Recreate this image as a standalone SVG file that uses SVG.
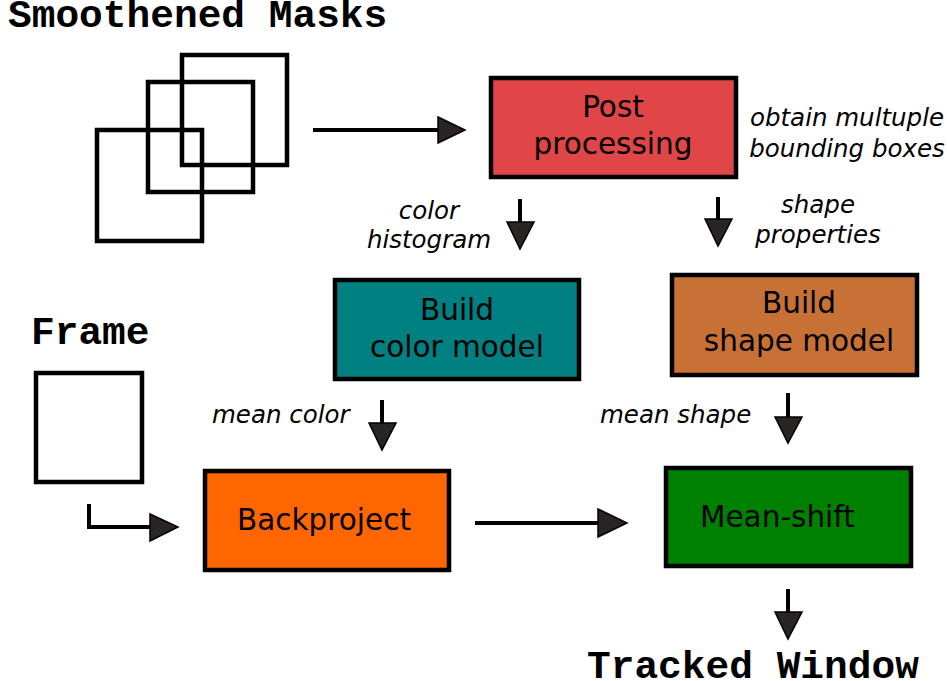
<svg xmlns="http://www.w3.org/2000/svg" width="947" height="681" viewBox="0 0 947 681">
<style>
.title{font-family:"Liberation Mono","Courier New",monospace;font-weight:bold;font-size:39.5px;fill:#000}
.box{stroke:#000;stroke-width:4.5}
.bt{font-family:"DejaVu Sans",sans-serif;font-size:29.5px;fill:#000}
.lbl{font-family:"DejaVu Sans",sans-serif;font-style:italic;font-size:24.5px;fill:#000}
.sq{fill:none;stroke:#000;stroke-width:4.5}
.ln{fill:none;stroke:#000;stroke-width:4}
.hd{fill:#2a2424;stroke:#000;stroke-width:1.5;stroke-linejoin:miter}
</style>
<rect width="947" height="681" fill="#fff"/>
<g id="masks">
<text class="title" x="8" y="27">Smoothened Masks</text>
<rect class="sq" x="182" y="55" width="105" height="110"/>
<rect class="sq" x="148" y="82" width="105" height="110"/>
<rect class="sq" x="97" y="130" width="105" height="111"/>
</g>
<g id="frame">
<text class="title" x="31" y="344">Frame</text>
<rect class="sq" x="36" y="373" width="106" height="109"/>
</g>
<g id="post">
<rect class="box" x="491" y="78" width="245" height="99" fill="#e04647"/>
<text class="bt" x="613" y="117" text-anchor="middle">Post</text>
<text class="bt" x="613" y="154" text-anchor="middle">processing</text>
</g>
<g id="colormodel">
<rect class="box" x="335" y="280" width="244" height="99" fill="#008080"/>
<text class="bt" x="457" y="320" text-anchor="middle">Build</text>
<text class="bt" x="457" y="357" text-anchor="middle">color model</text>
</g>
<g id="shapemodel">
<rect class="box" x="672" y="275" width="245" height="100" fill="#c87137"/>
<text class="bt" x="799" y="313" text-anchor="middle">Build</text>
<text class="bt" x="799" y="351" text-anchor="middle">shape model</text>
</g>
<g id="backproject">
<rect class="box" x="205" y="471" width="244" height="99" fill="#ff6600"/>
<text class="bt" x="237" y="530">Backproject</text>
</g>
<g id="meanshift">
<rect class="box" x="666" y="468" width="245" height="98" fill="#008000"/>
<text class="bt" x="700" y="527">Mean-shift</text>
</g>
<g id="tracked">
<text class="title" x="587" y="678">Tracked Window</text>
</g>
<g id="labels">
<text class="lbl" x="847" y="126" text-anchor="middle">obtain multuple</text>
<text class="lbl" x="847" y="157" text-anchor="middle">bounding boxes</text>
<text class="lbl" x="429" y="219" text-anchor="middle">color</text>
<text class="lbl" x="429" y="248" text-anchor="middle">histogram</text>
<text class="lbl" x="818" y="213" text-anchor="middle">shape</text>
<text class="lbl" x="818" y="243" text-anchor="middle">properties</text>
<text class="lbl" x="212" y="423">mean color</text>
<text class="lbl" x="600" y="423">mean shape</text>
</g>
<g id="connectors">
<path class="ln" d="M313,130 H440"/>
<path class="hd" d="M438,117 L465,130 L438,143 Z"/>
<path class="ln" d="M520,199 V224"/>
<path class="hd" d="M507,222 L534,222 L520,249 Z"/>
<path class="ln" d="M718,197 V221"/>
<path class="hd" d="M705,219 L732,219 L718,246 Z"/>
<path class="ln" d="M382,400 V425"/>
<path class="hd" d="M369,423 L396,423 L382,450 Z"/>
<path class="ln" d="M788,393 V419"/>
<path class="hd" d="M775,417 L802,417 L788,443 Z"/>
<path class="ln" d="M89,504 V527 H152"/>
<path class="hd" d="M150,514 L178,527 L150,541 Z"/>
<path class="ln" d="M475,523 H600"/>
<path class="hd" d="M598,509 L627,523 L598,537 Z"/>
<path class="ln" d="M788,589 V614"/>
<path class="hd" d="M775,612 L802,612 L788,639 Z"/>
</g>
</svg>
